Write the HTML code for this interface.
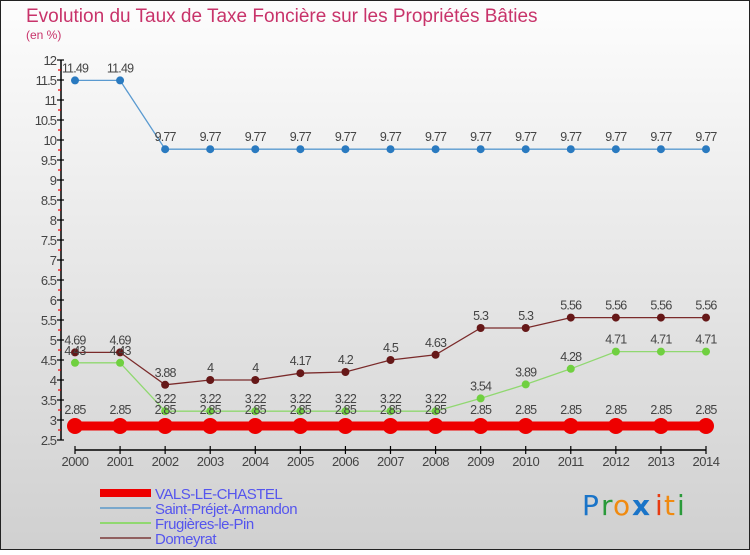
<!DOCTYPE html>
<html><head><meta charset="utf-8"><style>
html,body{margin:0;padding:0}
body{width:750px;height:550px;overflow:hidden;font-family:"Liberation Sans",sans-serif}
</style></head><body>
<svg id="chart" width="750" height="550" xmlns="http://www.w3.org/2000/svg">
<defs><linearGradient id="bg" x1="0" y1="0" x2="0" y2="1"><stop offset="0" stop-color="#fdfdfd"/><stop offset="1" stop-color="#d0d0d0"/></linearGradient></defs>
<rect x="0.5" y="0.5" width="749" height="549" fill="url(#bg)" stroke="#222" stroke-width="1"/>
<text x="26" y="22" font-size="19" fill="#c8336a">Evolution du Taux de Taxe Foncière sur les Propriétés Bâties</text>
<text x="26" y="39" font-size="12" fill="#c8336a">(en %)</text>
<g id="axes"></g><g id="series"></g><g id="legend"></g>
<g font-size="28" font-family="'DejaVu Sans',sans-serif">
<text x="582" y="515" fill="#1a74c8">P</text><text x="601" y="515" fill="#2a9a3a">r</text><text x="613" y="515" fill="#f08a10">o</text><text x="632" y="515" fill="#1a74c8" font-weight="bold">x</text><text x="655" y="515" fill="#e83a10">i</text><text x="664" y="515" fill="#f08a10">t</text><text x="677" y="515" fill="#2a9a3a">i</text>
</g>
</svg>
<script>
const years=[2000,2001,2002,2003,2004,2005,2006,2007,2008,2009,2010,2011,2012,2013,2014];
const valsLeChastel=[2.85,2.85,2.85,2.85,2.85,2.85,2.85,2.85,2.85,2.85,2.85,2.85,2.85,2.85,2.85];
const saintPrejet=[11.49,11.49,9.77,9.77,9.77,9.77,9.77,9.77,9.77,9.77,9.77,9.77,9.77,9.77,9.77];
const frugieres=[4.43,4.43,3.22,3.22,3.22,3.22,3.22,3.22,3.22,3.54,3.89,4.28,4.71,4.71,4.71];
const domeyrat=[4.69,4.69,3.88,4,4,4.17,4.2,4.5,4.63,5.3,5.3,5.56,5.56,5.56,5.56];
const yTicks=[2.5,3,3.5,4,4.5,5,5.5,6,6.5,7,7.5,8,8.5,9,9.5,10,10.5,11,11.5,12];
const NS="http://www.w3.org/2000/svg";
const x=i=>75+i*(706-75)/(years.length-1);
const y=v=>60+(12-v)*40;
function mk(tag,attrs,parent,txt){const e=document.createElementNS(NS,tag);for(const k in attrs)e.setAttribute(k,attrs[k]);if(txt!==undefined)e.textContent=txt;parent.appendChild(e);return e;}
const axes=document.getElementById('axes');
let e=mk('line',{x1:61,y1:y(12),x2:61,y2:y(2.5),stroke:'#000','stroke-width':1.5},axes);


yTicks.forEach(v=>{
 mk('line',{x1:57,y1:y(v),x2:64,y2:y(v),stroke:'#000','stroke-width':1.2},axes);
 if(v<12){mk('line',{x1:58,y1:y(v+0.25),x2:61,y2:y(v+0.25),stroke:'#e00','stroke-width':1.2},axes);}
 const t=mk('text',{x:56,y:y(v)+5,'font-size':13,fill:'#444','text-anchor':'end','letter-spacing':'-1'},axes,String(v));
 
 
});
e=mk('line',{x1:x(0),y1:450,x2:x(14),y2:450,stroke:'#000','stroke-width':1.5},axes);


years.forEach((yr,i)=>{
 mk('line',{x1:x(i),y1:446,x2:x(i),y2:454,stroke:'#000','stroke-width':1.2},axes);
 const t=mk('text',{x:x(i),y:466,'font-size':13,fill:'#444','text-anchor':'middle','letter-spacing':'-0.5'},axes,String(yr));
 
 
});
const series=[
 {name:'saint-prejet-armandon',data:saintPrejet,color:'#5a9ad0',dot:'#2a7ac0',w:1.3,r:4},
 {name:'frugieres-le-pin',data:frugieres,color:'#90d870',dot:'#70d040',w:1.3,r:4},
 {name:'domeyrat',data:domeyrat,color:'#7a2a2a',dot:'#661818',w:1.3,r:4},
 {name:'vals-le-chastel',data:valsLeChastel,color:'#ee0000',dot:'#ee0000',w:9,r:8}
];
const sg=document.getElementById('series');
series.forEach(s=>{
 const g=mk('g',{},sg);
 
 
 mk('polyline',{points:s.data.map((v,i)=>x(i)+','+y(v)).join(' '),fill:'none',stroke:s.color,'stroke-width':s.w},g);
 s.data.forEach((v,i)=>{
  const c=mk('circle',{cx:x(i),cy:y(v),r:s.r,fill:s.dot},g);
  
  
 });
});
series.slice().reverse().forEach(s=>{
 s.data.forEach((v,i)=>{
  const t=mk('text',{x:x(i),y:y(v)-(s.r>5?12:8),'font-size':12.5,fill:'#444','text-anchor':'middle','letter-spacing':'-0.8'},sg,String(v));
  
  
 });
});
const legendItems=[['VALS-LE-CHASTEL','#ee0000',8],['Saint-Préjet-Armandon','#7aa8cc',2],['Frugières-le-Pin','#90d870',2],['Domeyrat','#906060',2]];
const lg=document.getElementById('legend');
legendItems.forEach((it,k)=>{
 const yy=493+k*15;
 const g=mk('g',{},lg);
 
 
 mk('line',{x1:100,y1:yy,x2:151,y2:yy,stroke:it[1],'stroke-width':it[2]},g);
 mk('text',{x:155,y:yy+6,'font-size':15,fill:'#5555ee','letter-spacing':'-0.5'},g,it[0]);
});
</script>
</body></html>
